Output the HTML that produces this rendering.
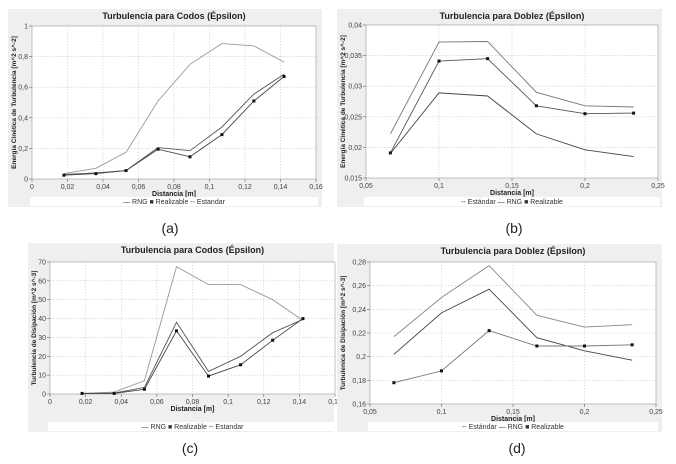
<!DOCTYPE html>
<html><head><meta charset="utf-8">
<style>
body{margin:0;background:#fff;width:676px;height:464px;overflow:hidden;font-family:"Liberation Sans",sans-serif}
svg{display:block}
</style></head><body>
<svg id="s" width="676" height="464" xmlns="http://www.w3.org/2000/svg"></svg>
<script>
// Panel (a)
const aX=[0.018,0.036,0.053,0.071,0.089,0.107,0.125,0.142];
const aEst=[0.035,0.07,0.175,0.51,0.75,0.885,0.87,0.765];
const aRng=[0.03,0.04,0.055,0.205,0.185,0.34,0.555,0.685];
const aRea=[0.025,0.035,0.055,0.195,0.145,0.29,0.51,0.67];
const aXt=["0","0,02","0,04","0,06","0,08","0,1","0,12","0,14","0,16"];
const aYt=["0","0,2","0,4","0,6","0,8","1"];
// Panel (b)
const bX=[0.0667,0.1,0.1333,0.1667,0.2,0.2333];
const bEst=[0.0222,0.0372,0.0373,0.029,0.0268,0.0266];
const bRng=[0.019,0.0289,0.0284,0.0222,0.0196,0.0185];
const bRea=[0.0191,0.0341,0.0345,0.0268,0.0255,0.0256];
const bXt=["0,05","0,1","0,15","0,2","0,25"];
const bYt=["0,015","0,02","0,025","0,03","0,035","0,04"];
// Panel (c)
const cX=[0.018,0.036,0.053,0.071,0.089,0.107,0.125,0.142];
const cEst=[0.3,1,7,67.5,58,58,50,39];
const cRng=[0.3,0.5,3.5,38,12,20,32.5,39.5];
const cRea=[0.3,0.3,2.5,33.5,9.5,15.5,28.5,40];
const cXt=["0","0,02","0,04","0,06","0,08","0,1","0,12","0,14","0,16"];
const cYt=["0","10","20","30","40","50","60","70"];
// Panel (d)
const dX=[0.0667,0.1,0.1333,0.1667,0.2,0.2333];
const dEst=[0.217,0.25,0.277,0.235,0.225,0.227];
const dRng=[0.202,0.237,0.257,0.216,0.205,0.197];
const dRea=[0.178,0.188,0.222,0.209,0.209,0.21];
const dXt=["0,05","0,1","0,15","0,2","0,25"];
const dYt=["0,16","0,18","0,2","0,22","0,24","0,26","0,28"];

const NS="http://www.w3.org/2000/svg";
const svg=document.getElementById('s');
function el(t,a,p){const e=document.createElementNS(NS,t);for(const k in a)e.setAttribute(k,a[k]);(p||svg).appendChild(e);return e;}
function txt(s,a,p){const e=el('text',a,p);e.textContent=s;return e;}

function panel(o){
  const g=el('g',{});
  
  
  const bg=el('rect',{x:o.bg[0],y:o.bg[1],width:o.bg[2]-o.bg[0],height:o.bg[3]-o.bg[1],fill:'#efefef'},g);
  
  
  const [L,T,R,B]=o.plot;
  el('rect',{x:L,y:T,width:R-L,height:B-T,fill:'#fff',stroke:'#999','stroke-width':0.6},g);
  const sx=v=>L+(v-o.xmin)/(o.xmax-o.xmin)*(R-L);
  const sy=v=>B-(v-o.ymin)/(o.ymax-o.ymin)*(B-T);
  const nx=o.xt.length-1, ny=o.yt.length-1;
  o.xt.forEach((lab,i)=>{
    const v=o.xmin+i*(o.xmax-o.xmin)/nx, x=sx(v);
    if(i>0&&i<nx) el('line',{x1:x,y1:T,x2:x,y2:B,stroke:'#ccc','stroke-width':0.6,'stroke-dasharray':'1.5,1.5'},g);
    el('line',{x1:x,y1:B,x2:x,y2:B+3,stroke:'#666','stroke-width':0.6},g);
    const t=txt(lab,{x:x,y:B+10,'font-size':7,'text-anchor':'middle',fill:'#444'},g);
    
    
  });
  o.yt.forEach((lab,i)=>{
    const v=o.ymin+i*(o.ymax-o.ymin)/ny, y=sy(v);
    if(i>0&&i<ny) el('line',{x1:L,y1:y,x2:R,y2:y,stroke:'#ccc','stroke-width':0.6,'stroke-dasharray':'1.5,1.5'},g);
    el('line',{x1:L-3,y1:y,x2:L,y2:y,stroke:'#666','stroke-width':0.6},g);
    const t=txt(lab,{x:L-4,y:y+2.5,'font-size':7,'text-anchor':'end',fill:'#444'},g);
    
    
  });
  o.series.forEach(s=>{
    const pts=o.x.map((v,i)=>sx(v).toFixed(1)+','+sy(s.y[i]).toFixed(1)).join(' ');
    const pl=el('polyline',{points:pts,fill:'none',stroke:s.c,'stroke-width':s.w||0.9},g);
    
    
    if(s.m) o.x.forEach((v,i)=>{
      const r=el('rect',{x:sx(v)-1.5,y:sy(s.y[i])-1.5,width:3,height:3,fill:'#111'},g);
      
      
    });
  });
  const tt=txt(o.title,{x:(L+R)/2,y:o.bg[1]+10,'font-size':9,'font-weight':'bold','text-anchor':'middle',fill:'#222'},g);
  
  
  const xl=txt('Distancia [m]',{x:(L+R)/2,y:B+17,'font-size':7,'font-weight':'bold','text-anchor':'middle',fill:'#222'},g);
  
  
  const yx=o.bg[0]+8, yy=(T+B)/2;
  const yl=txt(o.ylab,{x:yx,y:yy,'font-size':6.5,'font-weight':'bold','text-anchor':'middle',fill:'#222',transform:`rotate(-90 ${yx} ${yy})`},g);
  
  
  const lg=el('rect',{x:L-2,y:o.bg[3]-10,width:R-L+4,height:9,fill:'#fff'},g);
  
  
  const lt=txt(o.legend,{x:(L+R)/2,y:o.bg[3]-3,'font-size':7,'text-anchor':'middle',fill:'#333'},g);
  
  
  const cap=txt(o.cap,{x:o.capx,y:o.capy,'font-size':14,'text-anchor':'middle',fill:'#222'},g);
  
  
}

panel({name:'chart-a',bg:[8,9,322,207],plot:[32,26,316,179],xmin:0,xmax:0.16,ymin:0,ymax:1,xt:aXt,yt:aYt,x:aX,
  series:[{n:'estandar',y:aEst,c:'#999'},{n:'rng',y:aRng,c:'#555'},{n:'realizable',y:aRea,c:'#444',m:1}],
  title:'Turbulencia para Codos (Épsilon)',ylab:'Energía Cinética de Turbulencia [m^2 s^-2]',
  legend:'— RNG  ■ Realizable  -- Estandar',cap:'(a)',capx:170,capy:233});
panel({name:'chart-b',bg:[337,9,662,207],plot:[366,25,658,178],xmin:0.05,xmax:0.25,ymin:0.015,ymax:0.04,xt:bXt,yt:bYt,x:bX,
  series:[{n:'estandar',y:bEst,c:'#777'},{n:'rng',y:bRng,c:'#444'},{n:'realizable',y:bRea,c:'#555',m:1}],
  title:'Turbulencia para Doblez (Épsilon)',ylab:'Energía Cinética de Turbulencia [m^2 s^-2]',
  legend:'-- Estándar  — RNG  ■ Realizable',cap:'(b)',capx:514,capy:233});
panel({name:'chart-c',bg:[28,243,334,432],plot:[50,262,335,394],xmin:0,xmax:0.16,ymin:0,ymax:70,xt:cXt,yt:cYt,x:cX,
  series:[{n:'estandar',y:cEst,c:'#999'},{n:'rng',y:cRng,c:'#555'},{n:'realizable',y:cRea,c:'#444',m:1}],
  title:'Turbulencia para Codos (Épsilon)',ylab:'Turbulencia de Disipación [m^2 s^-3]',
  legend:'— RNG  ■ Realizable  -- Estandar',cap:'(c)',capx:190,capy:453});
panel({name:'chart-d',bg:[337,244,662,432],plot:[370,262,656,404],xmin:0.05,xmax:0.25,ymin:0.16,ymax:0.28,xt:dXt,yt:dYt,x:dX,
  series:[{n:'estandar',y:dEst,c:'#888'},{n:'rng',y:dRng,c:'#444'},{n:'realizable',y:dRea,c:'#777',m:1}],
  title:'Turbulencia para Doblez (Épsilon)',ylab:'Turbulenica de Disipación [m^2 s^-3]',
  legend:'-- Estándar  — RNG  ■ Realizable',cap:'(d)',capx:517,capy:453});
</script>
</body></html>
